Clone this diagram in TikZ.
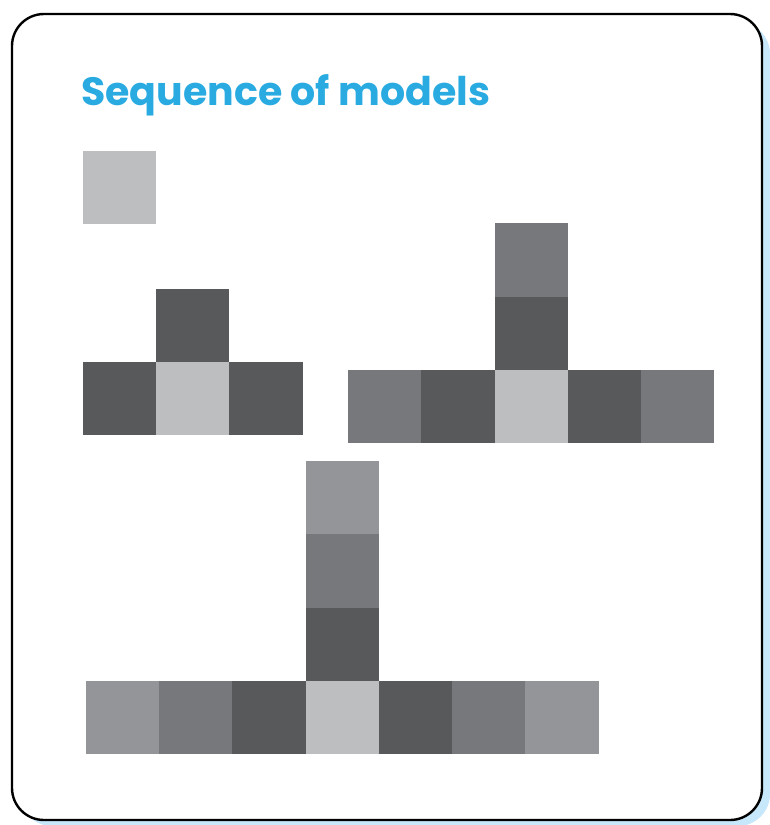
\documentclass[tikz,border=0pt]{standalone}
\usepackage{fontspec}
\newfontfamily\titlefont{Poppins}
\usetikzlibrary{positioning}

\definecolor{titleblue}{HTML}{29ABE2}
\definecolor{shadowblue}{HTML}{C7E7FA}
\definecolor{sqlight}{HTML}{BCBEC0}
\definecolor{sqdark}{HTML}{58595B}
\definecolor{sqmid}{HTML}{76787B}
\definecolor{sqpale}{HTML}{939598}

\tikzset{
  cell/.style={draw=none, minimum size=73.3pt, inner sep=0pt, outer sep=0pt, anchor=north west},
}

\begin{document}
\begin{tikzpicture}[x=1pt, y=-1pt]
        \useasboundingbox (0,0) rectangle (770,825);

        % card with blue shadow
        \fill[shadowblue, rounded corners=32pt] (20,22) rectangle (770,826);
        \draw[line width=2.4pt, fill=white, rounded corners=32pt] (12,14) rectangle (762,820);

        % title
        \node[anchor=base west, inner sep=0, text=titleblue, font=\titlefont\bfseries\fontsize{39.5}{42}\selectfont] (title) at (81,105) {Sequence of models};

        % model 1
        \node[cell, fill=sqlight] (m1c) at (83,151) {};

        % model 2
        \node[cell, fill=sqlight] (m2c) at (156,362) {};
        \node[cell, fill=sqdark, left=0pt of m2c] (m2l) {};
        \node[cell, fill=sqdark, right=0pt of m2c] (m2r) {};
        \node[cell, fill=sqdark, above=0pt of m2c] (m2u) {};

        % model 3
        \node[cell, fill=sqlight] (m3c) at (494.5,370) {};
        \node[cell, fill=sqdark, left=0pt of m3c] (m3l1) {};
        \node[cell, fill=sqmid, left=0pt of m3l1] (m3l2) {};
        \node[cell, fill=sqdark, right=0pt of m3c] (m3r1) {};
        \node[cell, fill=sqmid, right=0pt of m3r1] (m3r2) {};
        \node[cell, fill=sqdark, above=0pt of m3c] (m3u1) {};
        \node[cell, fill=sqmid, above=0pt of m3u1] (m3u2) {};

        % model 4
        \node[cell, fill=sqlight] (m4c) at (305.5,681) {};
        \node[cell, fill=sqdark, left=0pt of m4c] (m4l1) {};
        \node[cell, fill=sqmid, left=0pt of m4l1] (m4l2) {};
        \node[cell, fill=sqpale, left=0pt of m4l2] (m4l3) {};
        \node[cell, fill=sqdark, right=0pt of m4c] (m4r1) {};
        \node[cell, fill=sqmid, right=0pt of m4r1] (m4r2) {};
        \node[cell, fill=sqpale, right=0pt of m4r2] (m4r3) {};
        \node[cell, fill=sqdark, above=0pt of m4c] (m4u1) {};
        \node[cell, fill=sqmid, above=0pt of m4u1] (m4u2) {};
        \node[cell, fill=sqpale, above=0pt of m4u2] (m4u3) {};
\end{tikzpicture}
\end{document}
